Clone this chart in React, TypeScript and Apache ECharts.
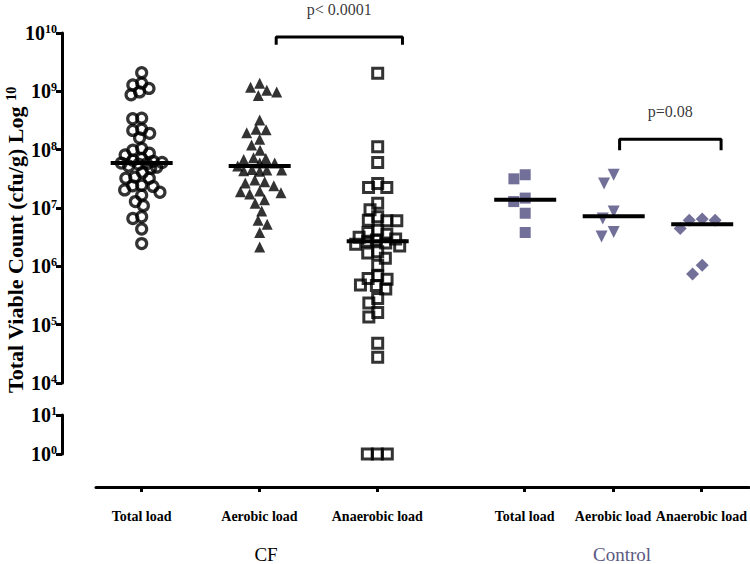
import React, { useEffect, useRef } from "react";
import * as echarts from "echarts";

// Categories and their positions on the x axis (two groups: CF and Control)
const groupNames = ["Total load", "Aerobic load", "Anaerobic load", "Total load", "Aerobic load", "Anaerobic load"];
const groupPositions = [1, 2, 3, 4.25, 5, 5.75];
const sectionLabels = ["CF", "Control"];

// Values are log10(cfu/g)
const cfTotal = [9.32, 9.14, 9.11, 9.05, 8.99, 8.94, 8.54, 8.53, 8.35, 8.33, 8.28, 8.2, 8.02, 7.99, 7.94, 7.91, 7.85, 7.82, 7.8, 7.78, 7.77, 7.76, 7.75, 7.72, 7.7, 7.68, 7.61, 7.53, 7.51, 7.51, 7.39, 7.38, 7.37, 7.31, 7.27, 7.22, 7.11, 7.04, 6.85, 6.82, 6.64, 6.39];
const cfAerobic = [9.14, 9.07, 9.02, 8.99, 8.93, 8.51, 8.35, 8.34, 8.29, 8.18, 8.08, 7.99, 7.86, 7.85, 7.83, 7.77, 7.77, 7.72, 7.66, 7.65, 7.65, 7.64, 7.63, 7.48, 7.45, 7.43, 7.38, 7.29, 7.28, 7.26, 7.24, 7.14, 7.08, 6.95, 6.79, 6.72, 6.58, 6.33];
const cfAnaerobic = [9.31, 8.05, 7.78, 7.42, 7.35, 7.35, 7.08, 6.97, 6.85, 6.79, 6.78, 6.78, 6.62, 6.58, 6.55, 6.5, 6.47, 6.45, 6.43, 6.4, 6.38, 6.35, 6.25, 6.23, 6.14, 6.02, 5.84, 5.79, 5.78, 5.68, 5.67, 5.61, 5.45, 5.37, 5.21, 5.13, 4.68, 4.44, 0, 0, 0];
const ctlTotal = [7.57, 7.5, 7.17, 7.11, 6.91, 6.58];
const ctlAerobic = [7.57, 7.42, 6.94, 6.82, 6.59, 6.51];
const ctlAnaerobic = [6.81, 6.79, 6.79, 6.65, 6.02, 5.87];
const medians = [7.77, 7.72, 6.43, 7.14, 6.86, 6.72];

// Significance brackets: x range, top and drop (log10), label
const bracketFrom = [2.14, 5.05];
const bracketTo = [3.21, 5.91];
const bracketTop = [9.93, 8.18];
const bracketDrop = [9.8, 7.99];
const bracketLabels = ["p< 0.0001", "p=0.08"];

// Y axis ranges (exponents)
const upperMin = 4;
const upperMax = 10;
const lowerMin = 0;
const lowerMax = 1;

const X_MIN = 0.613;
const X_MAX = 6.155;

const CTL = "#4f4c7e";
const SERIF = "'Liberation Serif', 'Times New Roman', serif";

const GRID_LEFT = 96;
const UPPER_TOP = 33;
const UPPER_H = 350;
const LOWER_TOP = 415;
const LOWER_H = 39;
const W = 750;
const H = 564;

const PX_PER_X = (W - GRID_LEFT) / (X_MAX - X_MIN);

function yPixel(v: number): number {
  if (v >= upperMin) return UPPER_TOP + UPPER_H - ((v - upperMin) / (upperMax - upperMin)) * UPPER_H;
  return LOWER_TOP + LOWER_H - ((v - lowerMin) / (lowerMax - lowerMin)) * LOWER_H;
}

function swarm(vals: number[], D: number, maxHalf: number): number[] {
  const order = vals.map((_, i) => i).sort((a, b) => vals[b] - vals[a]);
  const placed: { x: number; y: number }[] = [];
  const out = new Array(vals.length).fill(0);
  for (const i of order) {
    const y = yPixel(vals[i]);
    const cands = [0];
    for (const p of placed) {
      const dy = Math.abs(p.y - y);
      if (dy < D) {
        const dx = Math.sqrt(D * D - dy * dy);
        cands.push(p.x + dx, p.x - dx);
      }
    }
    cands.sort((a, b) => Math.abs(a) - Math.abs(b) || a - b);
    let chosen: number | null = null;
    for (const c of cands) {
      if (Math.abs(c) > maxHalf) continue;
      if (placed.every((p) => (p.x - c) ** 2 + (p.y - y) ** 2 >= D * D - 0.01)) {
        chosen = c;
        break;
      }
    }
    if (chosen === null) {
      let best = 0;
      let bestScore = -1;
      for (let c = -maxHalf; c <= maxHalf; c += 1) {
        const dmin = Math.min(...placed.map((p) => Math.hypot(p.x - c, p.y - y)));
        if (dmin > bestScore) {
          bestScore = dmin;
          best = c;
        }
      }
      chosen = best;
    }
    out[i] = chosen;
    placed.push({ x: chosen, y });
  }
  return out;
}

const groups = [cfTotal, cfAerobic, cfAnaerobic, ctlTotal, ctlAerobic, ctlAnaerobic];
const groupStyles: any[] = [
  { symbol: "circle", symbolSize: 10, itemStyle: { color: "rgba(255,255,255,0)", borderColor: "#000", borderWidth: 3.2 }, D: 9, M: 22 },
  { symbol: "triangle", symbolSize: 11, itemStyle: { color: "#000" }, D: 10, M: 22 },
  { symbol: "rect", symbolSize: 10, itemStyle: { color: "rgba(255,255,255,0)", borderColor: "#000", borderWidth: 3 }, D: 10, M: 22 },
  { symbol: "rect", symbolSize: 11, itemStyle: { color: CTL }, D: 12, M: 22 },
  { symbol: "triangle", symbolSize: 12, symbolRotate: 180, itemStyle: { color: CTL }, D: 13, M: 22 },
  { symbol: "diamond", symbolSize: 13, itemStyle: { color: CTL }, D: 13, M: 22 },
];

export default function App() {
  const ref = useRef<HTMLDivElement>(null);
  useEffect(() => {
    if (!ref.current) return;
    const chart = echarts.init(ref.current, undefined, { renderer: "svg" });

    const series: any[] = [];
    groups.forEach((vals, gi) => {
      const st = groupStyles[gi];
      const offs = swarm(vals, st.D, st.M);
      const upper: number[][] = [];
      const lower: number[][] = [];
      vals.forEach((v, i) => {
        const pt = [groupPositions[gi] + offs[i] / PX_PER_X, v];
        if (v >= upperMin) upper.push(pt);
        else lower.push(pt);
      });
      const base = {
        type: "scatter",
        symbol: st.symbol,
        symbolSize: st.symbolSize,
        symbolRotate: st.symbolRotate || 0,
        itemStyle: st.itemStyle,
        z: 2,
      };
      series.push({ ...base, xAxisIndex: 0, yAxisIndex: 0, data: upper });
      if (lower.length) series.push({ ...base, xAxisIndex: 1, yAxisIndex: 1, data: lower });
      const hw = 31 / PX_PER_X;
      series.push({
        type: "line",
        xAxisIndex: 0,
        yAxisIndex: 0,
        symbol: "none",
        lineStyle: { color: "#000", width: 4 },
        z: 5,
        data: [
          [groupPositions[gi] - hw, medians[gi]],
          [groupPositions[gi] + hw, medians[gi]],
        ],
      });
    });

    bracketFrom.forEach((f, bi) => {
      series.push({
        type: "line",
        xAxisIndex: 0,
        yAxisIndex: 0,
        symbol: "none",
        lineStyle: { color: "#000", width: 3 },
        z: 5,
        data: [
          [f, bracketDrop[bi]],
          [f, bracketTop[bi]],
          [bracketTo[bi], bracketTop[bi]],
          [bracketTo[bi], bracketDrop[bi]],
        ],
      });
      series.push({
        type: "scatter",
        xAxisIndex: 0,
        yAxisIndex: 0,
        symbolSize: 0,
        z: 5,
        label: {
          show: true,
          position: "top",
          distance: 20,
          formatter: bracketLabels[bi],
          fontFamily: SERIF,
          fontSize: 16,
          color: "#000",
        },
        data: [[(f + bracketTo[bi]) / 2, bracketTop[bi]]],
      });
    });

    const yRich = {
      b: { fontFamily: SERIF, fontWeight: "bold", fontSize: 20, color: "#000", lineHeight: 20 },
      e: { fontFamily: SERIF, fontWeight: "bold", fontSize: 12, color: "#000", verticalAlign: "top", lineHeight: 12 },
    };
    const yAxisCommon = {
      type: "value",
      offset: GRID_LEFT - 62,
      interval: 1,
      splitLine: { show: false },
      axisLine: { show: true, lineStyle: { color: "#000", width: 3 } },
      axisTick: { show: true, length: 6, lineStyle: { color: "#000", width: 3 } },
      axisLabel: {
        margin: 5,
        fontFamily: SERIF,
        fontWeight: "bold",
        fontSize: 20,
        color: "#000",
        formatter: (v: number) => `{b|10}{e|${Math.round(v)}}`,
        rich: yRich,
      },
    };

    chart.setOption({
      animation: false,
      grid: [
        { left: GRID_LEFT, right: 0, top: UPPER_TOP, height: UPPER_H },
        { left: GRID_LEFT, right: 0, top: LOWER_TOP, height: LOWER_H },
      ],
      xAxis: [
        { type: "value", gridIndex: 0, min: X_MIN, max: X_MAX, show: false },
        {
          type: "value",
          gridIndex: 1,
          min: X_MIN,
          max: X_MAX,
          position: "bottom",
          offset: 487 - (LOWER_TOP + LOWER_H),
          splitLine: { show: false },
          axisLine: { show: true, onZero: false, lineStyle: { color: "#000", width: 3 } },
          axisTick: { show: true, length: 5, customValues: groupPositions, lineStyle: { color: "#000", width: 3 } },
          axisLabel: {
            customValues: groupPositions,
            margin: 22,
            fontFamily: SERIF,
            fontWeight: "bold",
            fontSize: 14,
            color: "#000",
            formatter: (v: number) => {
              let idx = 0;
              groupPositions.forEach((p, i) => {
                if (Math.abs(p - v) < Math.abs(groupPositions[idx] - v)) idx = i;
              });
              return groupNames[idx];
            },
          },
        },
      ],
      yAxis: [
        { ...yAxisCommon, gridIndex: 0, min: upperMin, max: upperMax },
        { ...yAxisCommon, gridIndex: 1, min: lowerMin, max: lowerMax },
      ],
      graphic: [
        {
          type: "text",
          x: 15,
          y: 240,
          rotation: Math.PI / 2,
          style: {
            text: "{t|Total Viable Count (cfu/g) Log }{s|10}",
            fontFamily: SERIF,
            fontWeight: "bold",
            fontSize: 22,
            fill: "#000",
            align: "center",
            verticalAlign: "middle",
            rich: {
              t: { fontFamily: SERIF, fontWeight: "bold", fontSize: 22, fill: "#000", lineHeight: 22 },
              s: { fontFamily: SERIF, fontWeight: "bold", fontSize: 14, fill: "#000", verticalAlign: "top", lineHeight: 14 },
            },
          },
        },
        {
          type: "text",
          x: 266,
          y: 554,
          style: { text: sectionLabels[0], fontFamily: SERIF, fontSize: 19, fill: "#000", align: "center", verticalAlign: "middle" },
        },
        {
          type: "text",
          x: 622,
          y: 554,
          style: { text: sectionLabels[1], fontFamily: SERIF, fontSize: 19, fill: "#5a5880", align: "center", verticalAlign: "middle" },
        },
      ],
      series,
    });
    return () => chart.dispose();
  }, []);
  return <div ref={ref} style={{ position: "fixed", left: 0, top: 0, width: W, height: H, background: "#fff" }} />;
}
